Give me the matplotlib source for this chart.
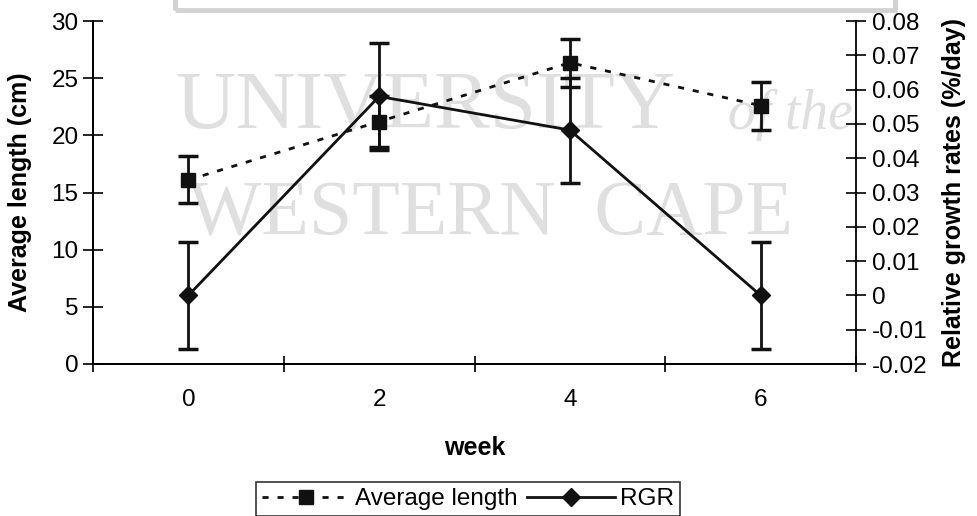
import matplotlib.pyplot as plt
from matplotlib.lines import Line2D
from matplotlib.patches import Rectangle

plt.rcParams['font.family'] = ['Liberation Sans', 'DejaVu Sans']

# data
weeks = ['0', '2', '4', '6']
avg_length = [16.1, 21.2, 26.35, 22.6]        # cm, left axis
avg_length_err = [2.05, 2.2, 2.1, 2.1]
rgr = [0.0, 0.058, 0.0482, 0.0]               # %/day, right axis
rgr_err = [0.0155, 0.0155, 0.0153, 0.0155]

left_ticks = [0, 5, 10, 15, 20, 25, 30]
right_ticks = [-0.02, -0.01, 0, 0.01, 0.02, 0.03, 0.04, 0.05, 0.06, 0.07, 0.08]
right_labels = ['-0.02', '-0.01', '0', '0.01', '0.02', '0.03', '0.04',
                '0.05', '0.06', '0.07', '0.08']

W, H = 977, 516
fig = plt.figure(figsize=(W / 100, H / 100), dpi=100)
fig.patch.set_facecolor('white')

# faint scan watermark behind the plot
wm = '#dfdfdf'
serif = ['Liberation Serif', 'DejaVu Serif']
fig.text(175 / W, 1 - 129 / H, 'UNIVERSITY', fontsize=60, color=wm,
         family=serif, va='baseline', zorder=-5)
fig.text(728 / W, 1 - 129 / H, 'of the', fontsize=40, color=wm, style='italic',
         family=serif, va='baseline', zorder=-5)
fig.text(188 / W, 1 - 235 / H, 'WESTERN  CAPE', fontsize=56, color=wm,
         family=serif, va='baseline', zorder=-5)
fig.patches.append(Rectangle((175 / W, 1 - 10 / H), 720 / W, 40 / H,
                             transform=fig.transFigure, fill=False,
                             edgecolor='#d2d2d2', lw=3.5, zorder=-5))

ax = fig.add_axes([93 / W, 1 - 364 / H, (856 - 93) / W, (364 - 21) / H])
ax.set_facecolor('none')
ax2 = ax.twinx()
ax2.set_facecolor('none')

x = list(range(len(weeks)))
ink = '#111111'
dash = (0, (2.2, 3.2))

ax.plot(x, avg_length, color=ink, ls=dash, lw=2, marker='s', ms=10.5,
        label='Average length', zorder=3)
ax.errorbar(x, avg_length, yerr=avg_length_err, fmt='none', ecolor=ink,
            elinewidth=2, capsize=7, capthick=2.5, zorder=3)

ax2.plot(x, rgr, color=ink, lw=2, marker='D', ms=9, label='RGR', zorder=3)
ax2.errorbar(x, rgr, yerr=rgr_err, fmt='none', ecolor=ink,
             elinewidth=2, capsize=7, capthick=2.5, zorder=3)

# axes limits and ticks
ax.set_xlim(-0.5, len(weeks) - 0.5)
ax.set_ylim(0, 30)
ax2.set_ylim(-0.02, 0.08)
ax.set_yticks(left_ticks)
ax2.set_yticks(right_ticks, right_labels)

ax.set_xticks(x, weeks)
ax.set_xticks([i - 0.5 for i in range(len(weeks) + 1)], minor=True)
ax.tick_params(axis='x', which='major', length=0, pad=18, labelsize=17.5)
ax.tick_params(axis='x', which='minor', direction='inout', length=12, width=1.2)
ax.tick_params(axis='y', direction='inout', length=15, width=1.2,
               labelsize=17.5, pad=3)
ax2.tick_params(axis='y', direction='inout', length=15, width=1.2,
                labelsize=17.5, pad=4)

for a in (ax, ax2):
    a.spines['top'].set_visible(False)
    for s in ('left', 'right', 'bottom'):
        a.spines[s].set_linewidth(1.3)
ax.spines['right'].set_visible(False)

ax.set_xlabel('week', fontsize=18, fontweight='bold')
ax.xaxis.label.set_va('center')
ax.xaxis.set_label_coords(0.5, (364 - 448) / (364 - 21))
ax.set_ylabel('Average length (cm)', fontsize=18, fontweight='bold')
ax.yaxis.set_label_coords((32 - 93) / (856 - 93), 0.5)
ax2.set_ylabel('Relative growth rates (%/day)', fontsize=18, fontweight='bold')
ax2.yaxis.set_label_coords((942 - 93) / (856 - 93), 0.5)

# legend under the plot
handles = [Line2D([], [], color=ink, ls=dash, lw=2, marker='s', ms=10.5),
           Line2D([], [], color=ink, lw=2, marker='D', ms=9)]
leg = fig.legend(handles, ['Average length', 'RGR'], loc='center',
                 bbox_to_anchor=(468 / W, 1 - 499 / H), ncol=2, fontsize=17.5,
                 frameon=True, fancybox=False, edgecolor='black',
                 handlelength=3.6, handletextpad=0.2, columnspacing=0.4,
                 borderpad=0.25, numpoints=1)
leg.get_frame().set_linewidth(1.2)

plt.savefig('out.png', dpi=100)
